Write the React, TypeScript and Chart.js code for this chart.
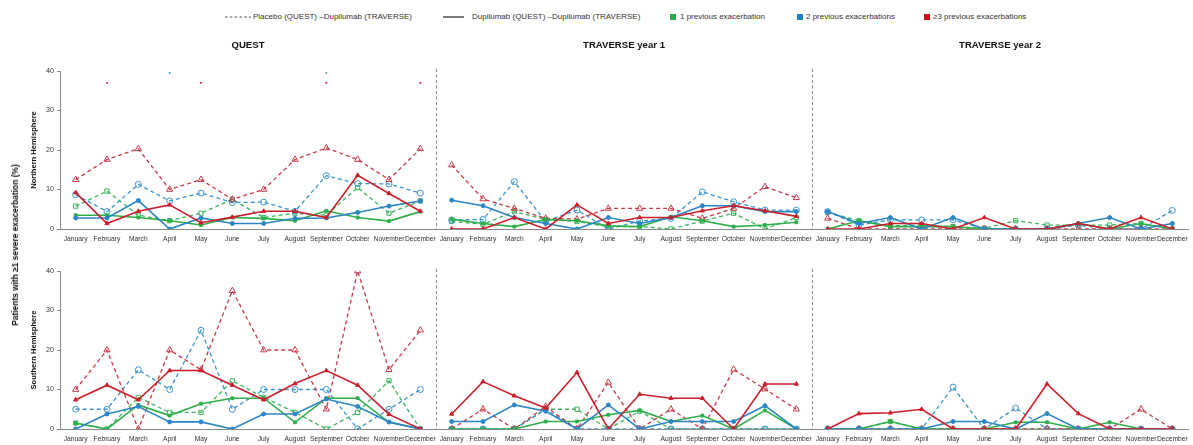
import React, { useEffect, useRef } from 'react';
import { Chart, registerables } from 'chart.js';
Chart.register(...registerables);

const MONTHS = ['January', 'February', 'March', 'April', 'May', 'June', 'July', 'August', 'September', 'October', 'November', 'December'];
const PANELS = ['QUEST', 'TRAVERSE year 1', 'TRAVERSE year 2'];
const LABELS = [...MONTHS, ...MONTHS, ...MONTHS];
const Y_TICKS = [0, 10, 20, 30, 40];

// ---------- Northern Hemisphere ----------
const N_Q_PBO_1 = [5.8, 9.6, 3.5, 2.1, 4.0, 7.5, 2.9, 4.0, 3.5, 10.5, 4.0, 7.1];
const N_Q_DUP_1 = [3.5, 3.5, 2.9, 2.1, 1.0, 2.9, 2.7, 2.1, 4.6, 2.9, 2.0, 4.4];
const N_Q_PBO_2 = [8.7, 4.4, 11.3, 7.1, 9.1, 6.7, 6.8, 4.5, 13.5, 11.5, 11.4, 9.1];
const N_Q_DUP_2 = [2.8, 2.8, 7.2, 0, 2.8, 1.4, 1.4, 2.7, 2.8, 4.2, 5.8, 7.1];
const N_Q_PBO_3 = [12.5, 17.6, 20.3, 10.0, 12.5, 7.5, 10.0, 17.6, 20.5, 17.6, 12.5, 20.3];
const N_Q_DUP_3 = [9.2, 1.4, 4.5, 6.1, 1.6, 3.0, 4.5, 4.5, 2.9, 13.6, 9.0, 4.5];

const N_T1_PBO_1 = [1.9, 1.2, 4.4, 2.4, 1.9, 0.6, 0.6, 0, 2.0, 4.0, 0, 2.9];
const N_T1_DUP_1 = [2.5, 1.4, 0.6, 2.4, 2.1, 0.8, 0.6, 3.1, 2.1, 0.6, 1.0, 1.7];
const N_T1_PBO_2 = [2.3, 2.4, 12.0, 1.9, 4.8, 0, 2.0, 2.7, 9.4, 6.9, 4.8, 4.8];
const N_T1_DUP_2 = [7.3, 5.9, 2.9, 1.4, 0, 2.9, 1.4, 2.9, 5.9, 5.9, 4.4, 4.4];
const N_T1_PBO_3 = [16.2, 7.6, 5.2, 2.7, 2.5, 5.2, 5.2, 5.2, 2.7, 5.2, 10.7, 7.9];
const N_T1_DUP_3 = [0, 0, 2.9, 0, 6.1, 1.4, 2.9, 2.9, 4.6, 5.9, 4.6, 3.2];

const N_T2_PBO_1 = [4.2, 2.1, 0.8, 1.0, 0.6, 0.2, 2.1, 1.0, 1.0, 1.0, 1.4, 0];
const N_T2_DUP_1 = [0, 2.1, 0.6, 0.6, 0.6, 0, 0, 0, 1.4, 0, 1.4, 0];
const N_T2_PBO_2 = [4.4, 1.0, 2.3, 2.3, 2.3, 0, 0, 0, 1.0, 0, 0, 4.7];
const N_T2_DUP_2 = [4.4, 1.4, 2.9, 0, 2.9, 0, 0, 0, 1.4, 2.9, 0, 1.4];
const N_T2_PBO_3 = [2.7, 0, 0, 0, 0, 0, 0, 0, 0, 0, 0, 0];
const N_T2_DUP_3 = [0, 0, 1.4, 1.4, 0, 2.9, 0, 0, 1.4, 0, 2.9, 0];

// stray marks above the top of the axis in the source figure (QUEST panel)
const N_STRAY_TEAL = [null, 41.7, null, 39.5, 41.7, null, null, null, 39.5, 41.7, null, null];
const N_STRAY_RED = [null, 37, null, null, 37, null, null, null, 37, null, null, 37];

// ---------- Southern Hemisphere ----------
const S_Q_PBO_1 = [1.5, 0, 8.0, 4.2, 4.2, 12.2, 8.0, 4.2, 0, 4.2, 12.2, 0];
const S_Q_DUP_1 = [1.5, 0, 6.1, 3.4, 6.4, 7.8, 7.8, 1.7, 7.8, 7.8, 1.7, 0];
const S_Q_PBO_2 = [5, 5, 15, 10, 25, 5, 10, 10, 10, 0, 5, 10];
const S_Q_DUP_2 = [0, 3.8, 5.7, 1.8, 1.8, 0, 3.8, 3.8, 7.6, 5.7, 1.8, 0];
const S_Q_PBO_3 = [10, 20, 0, 20, 15, 35, 20, 20, 5, 40, 15, 25];
const S_Q_DUP_3 = [7.4, 11.1, 7.4, 14.8, 14.8, 11.1, 7.4, 11.5, 14.8, 11.1, 3.7, 0];

const S_T1_PBO_1 = [0, 0, 0, 5.0, 5.0, 0, 4.5, 0, 0, 0, 0, 0];
const S_T1_DUP_1 = [0, 0, 0, 1.9, 1.9, 3.6, 4.7, 1.9, 3.4, 0, 4.7, 0];
const S_T1_PBO_2 = [0, 0, 0, 5.0, 0, 0, 0, 0, 0, 0, 0, 0];
const S_T1_DUP_2 = [1.9, 1.9, 6.1, 4.5, 0, 6.1, 0, 1.9, 1.9, 1.9, 5.9, 0];
const S_T1_PBO_3 = [0, 5.0, 0, 5.7, 0, 11.8, 0, 5.0, 0, 15.1, 10.1, 5.0];
const S_T1_DUP_3 = [3.8, 12.0, 8.4, 5.3, 14.3, 0, 8.8, 7.8, 7.8, 0, 11.4, 11.4];

const S_T2_PBO_1 = [0, 0, 1.9, 0, 0, 0, 0, 0, 0, 0, 0, 0];
const S_T2_DUP_1 = [0, 0, 1.9, 0, 0, 0, 1.7, 1.7, 0, 1.7, 0, 0];
const S_T2_PBO_2 = [0, 0, 0, 0, 10.6, 0, 5.3, 0, 0, 0, 0, 0];
const S_T2_DUP_2 = [0, 0, 0, 0, 1.9, 1.9, 0, 3.9, 0, 0, 0, 0];
const S_T2_PBO_3 = [0, 0, 0, 0, 0, 0, 0, 0, 0, 0, 5.0, 0];
const S_T2_DUP_3 = [0, 3.9, 4.1, 5.0, 0, 0, 0, 11.4, 3.9, 0, 0, 0];

const S_STRAY_BLUE = [null, null, null, null, 43.3, null, null, null, null, null, null, null];
const S_STRAY_RED = [null, null, null, null, null, 41.8, null, null, null, 41.8, null, null];
const S_STRAY_GREEN = [null, null, null, null, null, null, null, null, null, null, 44.4, null];

const EMPTY12 = MONTHS.map(() => null);

const FONT = "'Liberation Sans', Arial, Helvetica, sans-serif";

const COL = {
  g: '#2eaf4a', gd: '#3db45f',
  b: '#2c86c6', bd: '#3b94cf',
  r: '#cc1f2b', rd: '#c93a49',
};

type Row = {
  pbo1: number[][]; dup1: number[][];
  pbo2: number[][]; dup2: number[][];
  pbo3: number[][]; dup3: number[][];
  stray: { data: (number | null)[]; color: string }[];
};

const NORTH: Row = {
  pbo1: [N_Q_PBO_1, N_T1_PBO_1, N_T2_PBO_1],
  dup1: [N_Q_DUP_1, N_T1_DUP_1, N_T2_DUP_1],
  pbo2: [N_Q_PBO_2, N_T1_PBO_2, N_T2_PBO_2],
  dup2: [N_Q_DUP_2, N_T1_DUP_2, N_T2_DUP_2],
  pbo3: [N_Q_PBO_3, N_T1_PBO_3, N_T2_PBO_3],
  dup3: [N_Q_DUP_3, N_T1_DUP_3, N_T2_DUP_3],
  stray: [
    { data: [...N_STRAY_TEAL, ...EMPTY12, ...EMPTY12], color: '#4aa7b8' },
    { data: [...N_STRAY_RED, ...EMPTY12, ...EMPTY12], color: COL.rd },
  ],
};

const SOUTH: Row = {
  pbo1: [S_Q_PBO_1, S_T1_PBO_1, S_T2_PBO_1],
  dup1: [S_Q_DUP_1, S_T1_DUP_1, S_T2_DUP_1],
  pbo2: [S_Q_PBO_2, S_T1_PBO_2, S_T2_PBO_2],
  dup2: [S_Q_DUP_2, S_T1_DUP_2, S_T2_DUP_2],
  pbo3: [S_Q_PBO_3, S_T1_PBO_3, S_T2_PBO_3],
  dup3: [S_Q_DUP_3, S_T1_DUP_3, S_T2_DUP_3],
  stray: [
    { data: [...S_STRAY_BLUE, ...EMPTY12, ...EMPTY12], color: COL.bd },
    { data: [...S_STRAY_RED, ...EMPTY12, ...EMPTY12], color: COL.rd },
    { data: [...S_STRAY_GREEN, ...EMPTY12, ...EMPTY12], color: COL.gd },
  ],
};

const breakSeg = (ctx: any) => (ctx.p0DataIndex % 12 === 11 ? 'rgba(0,0,0,0)' : undefined);

function series(label: string, parts: number[][], color: string, placebo: boolean, style: string, order: number) {
  const tri = style === 'triangle';
  return {
    label,
    data: ([] as number[]).concat(...parts),
    borderColor: color,
    borderWidth: placebo ? 1.3 : 1.6,
    borderDash: placebo ? [4, 3] : [],
    pointStyle: style,
    pointRadius: placebo ? (tri ? 3.6 : 3) : (tri ? 2.4 : 2),
    pointBorderWidth: 1,
    pointBorderColor: color,
    pointBackgroundColor: placebo ? 'rgba(255,255,255,0)' : color,
    fill: false,
    tension: 0,
    order,
    segment: { borderColor: breakSeg },
  };
}

function buildDatasets(row: Row) {
  const ds: any[] = [
    series('Placebo 1', row.pbo1, COL.gd, true, 'rect', 6),
    series('Placebo 2', row.pbo2, COL.bd, true, 'circle', 5),
    series('Placebo 3', row.pbo3, COL.rd, true, 'triangle', 4),
    series('Dupilumab 1', row.dup1, COL.g, false, 'rect', 3),
    series('Dupilumab 2', row.dup2, COL.b, false, 'circle', 2),
    series('Dupilumab 3', row.dup3, COL.r, false, 'triangle', 1),
  ];
  row.stray.forEach((s, i) => {
    ds.push({
      label: 'stray' + i,
      data: s.data,
      showLine: false,
      pointRadius: 1.1,
      pointBorderWidth: 0,
      pointBackgroundColor: s.color,
      borderColor: s.color,
      clip: false,
      order: 0,
    });
  });
  return ds;
}

const panelPlugin = (showTitles: boolean) => ({
  id: 'panelDecor',
  beforeDatasetsDraw(chart: any) {
    const { ctx, chartArea } = chart;
    const xs = chart.scales.x;
    ctx.save();
    ctx.strokeStyle = '#8a8a8a';
    ctx.lineWidth = 1;
    ctx.setLineDash([3, 2.5]);
    [12, 24].forEach((i) => {
      const x = Math.round((xs.getPixelForValue(i - 1) + xs.getPixelForValue(i)) / 2) + 0.5;
      ctx.beginPath();
      ctx.moveTo(x, chartArea.top - 2);
      ctx.lineTo(x, chartArea.bottom);
      ctx.stroke();
    });
    ctx.restore();
  },
  afterDraw(chart: any) {
    if (!showTitles) return;
    const { ctx } = chart;
    const xs = chart.scales.x;
    ctx.save();
    ctx.font = `bold 9.6px ${FONT}`;
    ctx.fillStyle = '#111';
    ctx.textAlign = 'center';
    ctx.textBaseline = 'middle';
    PANELS.forEach((t, p) => {
      const x = (xs.getPixelForValue(p * 12) + xs.getPixelForValue(p * 12 + 11)) / 2;
      ctx.fillText(t, x, 45);
    });
    ctx.restore();
  },
});

function makeConfig(row: Row, rowTitle: string, padTop: number, xHeight: number, showTitles: boolean): any {
  return {
    type: 'line',
    data: { labels: LABELS, datasets: buildDatasets(row) },
    plugins: [panelPlugin(showTitles)],
    options: {
      animation: false,
      responsive: true,
      maintainAspectRatio: false,
      devicePixelRatio: 1,
      layout: { padding: { top: padTop, left: 25, right: 0, bottom: 0 } },
      plugins: { legend: { display: false }, tooltip: { enabled: false }, title: { display: false } },
      scales: {
        x: {
          type: 'category',
          offset: true,
          grid: { display: true, drawOnChartArea: false, drawTicks: false },
          border: { display: true, color: '#8a8a8a', width: 1 },
          ticks: {
            autoSkip: false,
            maxRotation: 0,
            minRotation: 0,
            padding: 6,
            color: '#333',
            font: { family: FONT, size: 6.7 },
          },
          afterFit(scale: any) {
            scale.height = xHeight;
            scale.paddingLeft = 0;
            scale.paddingRight = 0;
          },
        },
        y: {
          min: 0,
          max: 40,
          afterBuildTicks(scale: any) {
            scale.ticks = Y_TICKS.map((v) => ({ value: v }));
          },
          grid: { drawOnChartArea: false, drawTicks: true, tickLength: 3, color: '#8a8a8a' },
          border: { display: true, color: '#8a8a8a', width: 1 },
          ticks: { padding: 3, color: '#333', font: { family: FONT, size: 7.2 } },
          title: {
            display: true,
            text: rowTitle,
            color: '#111',
            font: { family: FONT, size: 7.6, weight: 'bold' },
            padding: { top: 4, bottom: 4 },
          },
          afterFit(scale: any) {
            scale.width = 35;
          },
        },
      },
    },
  };
}

function ChartBox({ config, top, height }: { config: () => any; top: number; height: number }) {
  const ref = useRef<HTMLCanvasElement>(null);
  useEffect(() => {
    if (!ref.current) return;
    const chart = new Chart(ref.current, config());
    return () => chart.destroy();
  }, []);
  return (
    <div style={{ position: 'absolute', left: 0, top, width: 1193, height }}>
      <canvas ref={ref} />
    </div>
  );
}

const LEGEND_TEXT = { fontFamily: FONT, fontSize: 8, color: '#333', whiteSpace: 'nowrap' as const, lineHeight: '10px' };

function Legend() {
  const y = 17;
  const item = (left: number, text: string) => (
    <span style={{ position: 'absolute', left, top: y - 5, ...LEGEND_TEXT }}>{text}</span>
  );
  const square = (left: number, color: string) => (
    <span style={{ position: 'absolute', left, top: y - 3, width: 6, height: 6, background: color }} />
  );
  return (
    <>
      <svg style={{ position: 'absolute', left: 225, top: y - 2 }} width={26} height={4}>
        <line x1={0} y1={2} x2={26} y2={2} stroke="#555" strokeWidth={1.2} strokeDasharray="2.6,2.2" />
      </svg>
      {item(253, 'Placebo (QUEST) \u2013Dupilumab (TRAVERSE)')}
      <svg style={{ position: 'absolute', left: 443, top: y - 2 }} width={21} height={4}>
        <line x1={0} y1={2} x2={21} y2={2} stroke="#444" strokeWidth={1.4} />
      </svg>
      {item(472, 'Dupilumab (QUEST) \u2013Dupilumab (TRAVERSE)')}
      {square(670, '#1fae4b')}
      {item(680, '1 previous exacerbation')}
      {square(797, '#1f7fc7')}
      {item(806, '2 previous exacerbations')}
      {square(924, '#cc0f1d')}
      {item(933, '\u22653 previous exacerbations')}
    </>
  );
}

export default function App() {
  return (
    <div style={{ position: 'fixed', left: 0, top: 0, width: 1193, height: 445, background: '#fff', overflow: 'hidden' }}>
      <Legend />
      <ChartBox config={() => makeConfig(NORTH, 'Northern Hemisphere', 71, 21, true)} top={0} height={250} />
      <ChartBox config={() => makeConfig(SOUTH, 'Southern Hemisphere', 21, 16, false)} top={250} height={195} />
      <div
        style={{
          position: 'absolute',
          left: 15,
          top: 245,
          transform: 'translate(-50%, -50%) rotate(-90deg)',
          fontFamily: FONT,
          fontSize: 8.4,
          fontWeight: 'bold',
          color: '#111',
          whiteSpace: 'nowrap',
        }}
      >
        Patients with ≥1 severe exacerbation (%)
      </div>
    </div>
  );
}
